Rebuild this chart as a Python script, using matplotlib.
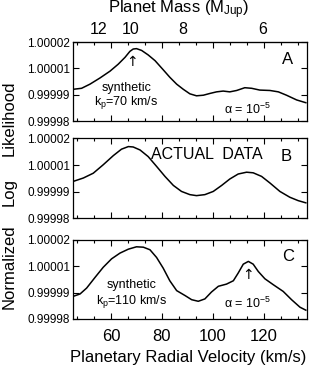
import numpy as np
from matplotlib import pyplot as plt
from matplotlib.ticker import FixedLocator, MultipleLocator

plt.rcParams['font.family'] = ['Liberation Sans', 'DejaVu Sans']
plt.rcParams['mathtext.fontset'] = 'custom'
plt.rcParams['mathtext.rm'] = 'Liberation Sans'
plt.rcParams['mathtext.it'] = 'Liberation Sans:italic'

# offsets from 1 in units of 1e-5 (normalized log likelihood)
kp_a = [45.1, 48.4, 51.7, 55.6, 59.6, 62.8, 65.5, 67.4, 68.7, 70.0, 72.0, 74.6,
        77.3, 80.5, 83.1, 85.8, 88.4, 91.0, 93.6, 96.3, 98.9, 101.5, 104.1, 106.7,
        109.4, 112.6, 115.3, 118.5, 122.5, 125.8, 129.0, 133.0, 136.6]
d_a = [-0.39, -0.34, -0.13, 0.18, 0.53, 0.88, 1.23, 1.53, 1.65, 1.67, 1.58, 1.35,
       1.06, 0.60, 0.22, -0.13, -0.39, -0.62, -0.72, -0.69, -0.60, -0.52, -0.48, -0.52,
       -0.45, -0.31, -0.34, -0.43, -0.45, -0.52, -0.69, -0.93, -1.07]

kp_b = [45.1, 49.1, 53.0, 56.9, 60.9, 64.1, 66.8, 68.7, 71.4, 74.6, 77.9, 81.2,
        84.5, 87.7, 91.0, 93.6, 96.9, 100.2, 103.5, 106.7, 110.0, 113.3, 115.9,
        119.2, 122.5, 126.4, 130.3, 133.6, 136.6]
d_b = [-0.15, 0.02, 0.26, 0.68, 1.14, 1.46, 1.59, 1.57, 1.42, 1.09, 0.60, 0.10,
       -0.35, -0.65, -0.81, -0.86, -0.81, -0.65, -0.35, -0.03, 0.22, 0.31, 0.28,
       0.10, -0.23, -0.65, -0.94, -1.11, -1.22]

kp_c = [45.1, 47.8, 50.4, 53.7, 56.9, 60.2, 63.5, 66.8, 70.0, 72.7, 75.3, 77.9,
        80.5, 83.1, 85.8, 89.1, 91.7, 94.3, 96.9, 99.5, 102.2, 105.4, 108.1, 110.0,
        112.0, 114.0, 115.9, 117.9, 120.5, 123.8, 127.7, 131.0, 134.3, 136.6]
d_c = [-0.86, -0.74, -0.44, 0.10, 0.61, 1.04, 1.33, 1.53, 1.65, 1.63, 1.50, 1.11,
       0.57, -0.07, -0.57, -0.82, -1.03, -1.11, -0.99, -0.64, -0.35, -0.24, -0.07, 0.32,
       0.77, 0.91, 0.77, 0.40, 0.03, -0.27, -0.61, -1.03, -1.41, -1.56]

ytick_labels = ['0.99998', '0.99999', '1.00001', '1.00002']
xticks = [60, 80, 100, 120]
mass_labels = ['12', '10', '8', '6']
mass_kp = [55.0, 67.5, 88.0, 119.5]


def y(d):
    return 1.0 + np.array(d) * 1e-5


fig = plt.figure(figsize=(3.09, 3.76), dpi=100)
boxes = [[0.236, 0.678, 0.757, 0.210],
         [0.236, 0.419, 0.757, 0.213],
         [0.236, 0.152, 0.757, 0.210]]
axes = [fig.add_axes(b) for b in boxes]

for ax, kp, d in zip(axes, [kp_a, kp_b, kp_c], [d_a, d_b, d_c]):
    ax.plot(kp, y(d), 'k', lw=1.1)
    ax.set_xlim(45, 137)
    ax.set_ylim(0.99998, 1.00002)
    ax.set_yticks(np.linspace(0.99998, 1.00002, 4))
    ax.set_yticklabels(ytick_labels, fontsize=8.5)
    ax.xaxis.set_major_locator(FixedLocator(xticks))
    ax.xaxis.set_minor_locator(MultipleLocator(20 / 3.0))
    ax.tick_params(which='both', direction='in', top=True, right=True, width=0.8)
    ax.tick_params(which='major', length=4, pad=2)
    ax.tick_params(which='minor', length=2)
    for s in ax.spines.values():
        s.set_linewidth(0.9)
    if ax is not axes[2]:
        ax.set_xticklabels([])
    else:
        ax.set_xticklabels([str(v) for v in xticks], fontsize=12)
        ax.tick_params(axis='x', pad=7)

# top mass axis
top = axes[0].secondary_xaxis('top')
top.set_xticks(mass_kp)
top.set_xticklabels(mass_labels, fontsize=11.5)
top.tick_params(direction='in', length=0, pad=4)

alpha_txt = '\u03b1 = 10$^{-5}$'
ax_a, ax_b, ax_c = axes
ax_a.text(129.5, y(1.1), 'A', fontsize=12, ha='center', va='center')
ax_a.text(66.0, y(-0.33), 'synthetic', fontsize=9, ha='center', va='center')
ax_a.text(66.0, y(-1.05), r'k$_{\rm p}$=70 km/s', fontsize=9, ha='center', va='center')
ax_a.text(113.5, y(-1.39), alpha_txt, fontsize=9, ha='center', va='center')
ax_a.text(68.1, y(1.0), '\u2191', fontsize=10, ha='center', va='center', family='DejaVu Sans')

ax_b.text(97.5, y(1.17), 'ACTUAL  DATA', fontsize=11.5, ha='center', va='center')
ax_b.text(129.0, y(1.1), 'B', fontsize=12, ha='center', va='center')

ax_c.text(129.5, y(1.16), 'C', fontsize=12, ha='center', va='center')
ax_c.text(68.1, y(-0.3), 'synthetic', fontsize=9, ha='center', va='center')
ax_c.text(68.1, y(-1.1), r'k$_{\rm p}$=110 km/s', fontsize=9, ha='center', va='center')
ax_c.text(113.5, y(-1.2), alpha_txt, fontsize=9, ha='center', va='center')
ax_c.text(114.0, y(0.24), '\u2191', fontsize=10, ha='center', va='center', family='DejaVu Sans')

fig.text(0.577, 0.973, r'Planet Mass (M$_{\rm Jup}$)', fontsize=12, ha='center', va='center')
fig.text(0.61, 0.05, 'Planetary Radial Velocity (km/s)', fontsize=12, ha='center', va='center')
fig.text(0.03, 1 - 118 / 376.0, 'Likelihood', fontsize=12, rotation=90, ha='center', va='center')
fig.text(0.03, 1 - 192 / 376.0, 'Log', fontsize=12, rotation=90, ha='center', va='center')
fig.text(0.03, 1 - 267 / 376.0, 'Normalized', fontsize=12, rotation=90, ha='center', va='center')

fig.savefig('out.png', dpi=100)
